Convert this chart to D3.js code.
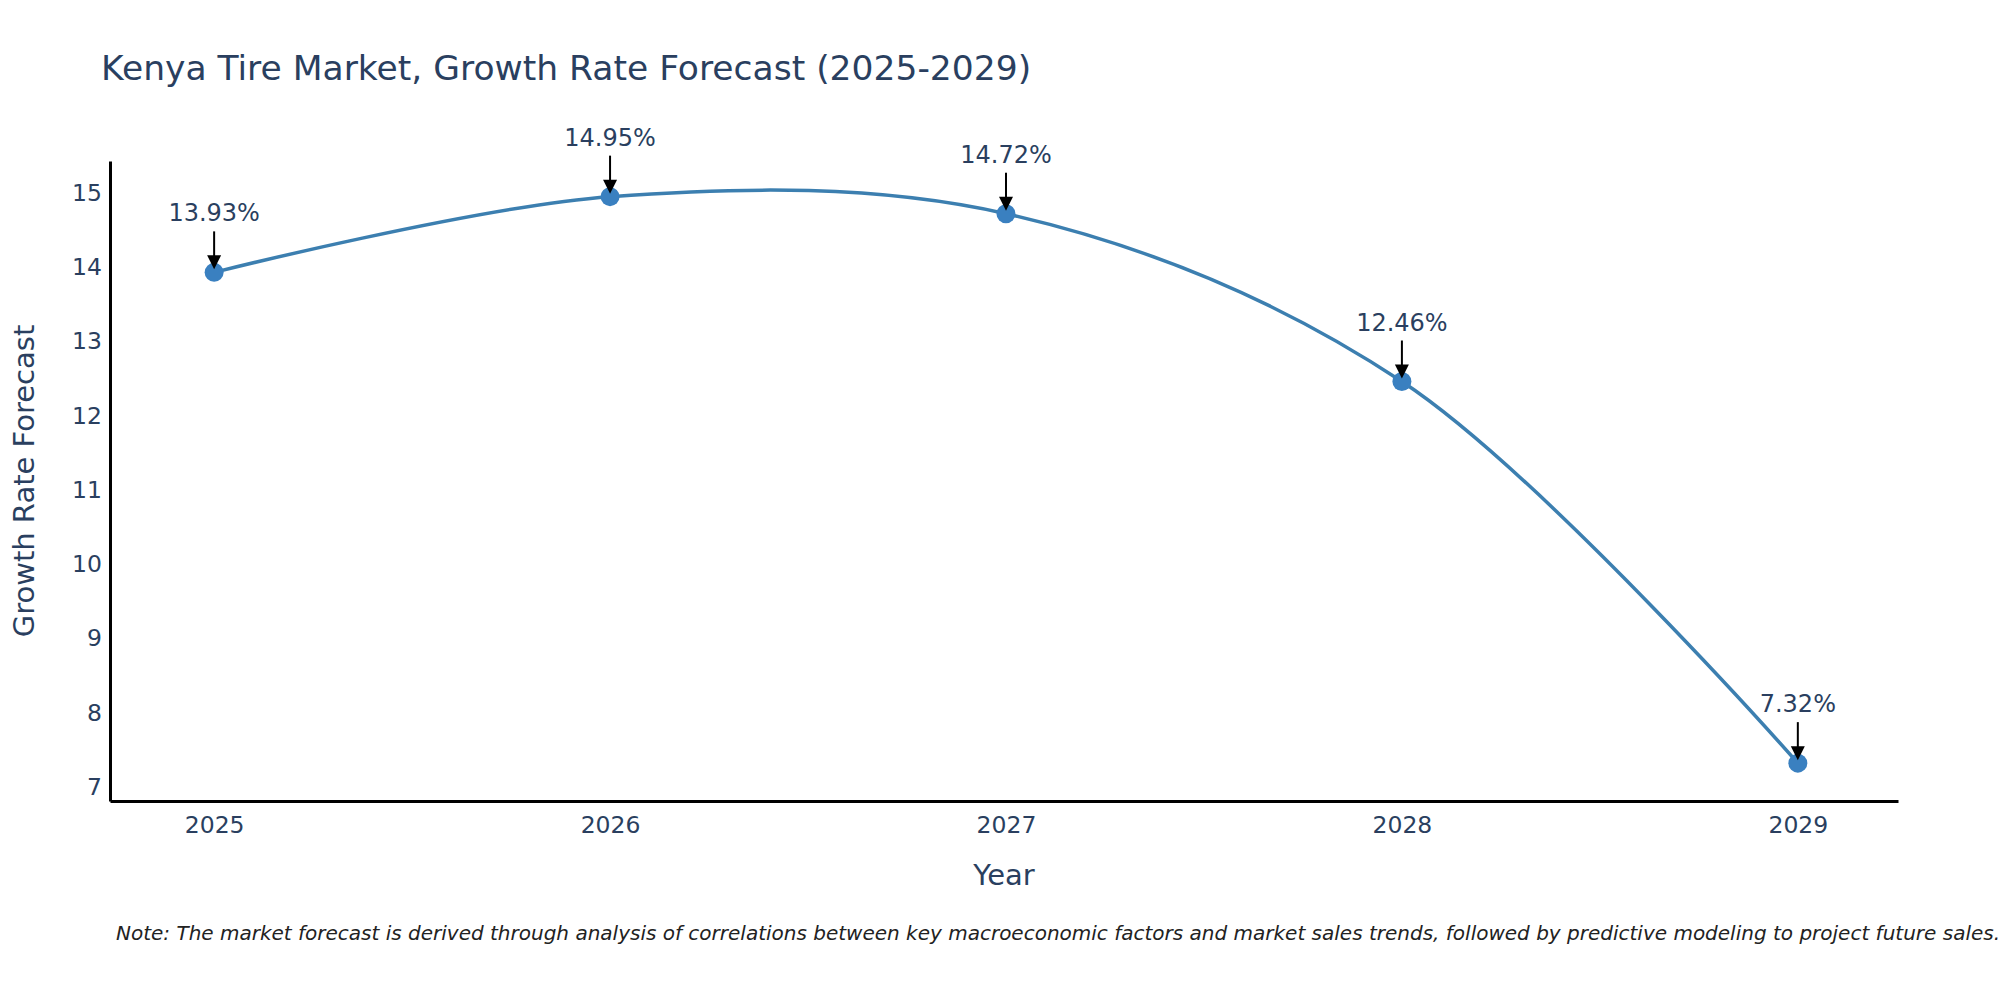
<!DOCTYPE html>
<html>
<head>
<meta charset="utf-8">
<script src="https://cdn.jsdelivr.net/npm/d3@7"></script>
<style>
  body { margin: 0; background: #fff; }
  svg { display: block; font-family: "DejaVu Sans", Verdana, sans-serif; }
</style>
</head>
<body>
<svg></svg>
<script>
// Chart data
const years = [2025, 2026, 2027, 2028, 2029];
const growthRates = [13.93, 14.95, 14.72, 12.46, 7.32];
const yTicks = [7, 8, 9, 10, 11, 12, 13, 14, 15];
const chartTitle = "Kenya Tire Market, Growth Rate Forecast (2025-2029)";
const xTitle = "Year";
const yTitle = "Growth Rate Forecast";
const noteText = "Note: The market forecast is derived through analysis of correlations between key macroeconomic factors and market sales trends, followed by predictive modeling to project future sales.";

document.addEventListener("DOMContentLoaded", function(){
    const dataset = years.map((y, i) => ({year: y, value: growthRates[i]}));

    // Dimensions
    const width = 2000;
    const height = 1000;
    const left = 110, right = 1898, top = 161, bottom = 801;
    const textColor = "#2a3f5f";

    const svg = d3.select("svg")
        .attr("width", width)
        .attr("height", height);

    // Scales
    const xScale = d3.scaleLinear()
        .domain([2024.737, 2029.253])
        .range([left, right]);

    const yScale = d3.scaleLinear()
        .domain([6.81, 15.43])
        .range([bottom, top]);

    // Title
    svg.append("text")
        .attr("x", 101)
        .attr("y", 80)
        .attr("font-size", 34.5)
        .attr("fill", textColor)
        .text(chartTitle);

    // x-axis
    const xAxis = d3.axisBottom(xScale)
        .tickValues(years)
        .tickFormat(d3.format("d"))
        .tickSize(0)
        .tickPadding(15);
    const gx = svg.append("g")
        .attr("transform", "translate(0," + bottom + ")")
        .call(xAxis);
    gx.select(".domain").attr("stroke", "black").attr("stroke-width", 3);
    gx.selectAll("text")
        .attr("font-size", 23.5)
        .attr("font-family", "DejaVu Sans")
        .attr("fill", textColor);

    // y-axis
    const yAxis = d3.axisLeft(yScale)
        .tickValues(yTicks)
        .tickFormat(d3.format("d"))
        .tickSize(0)
        .tickPadding(8);
    const gy = svg.append("g")
        .attr("transform", "translate(" + left + ",0)")
        .call(yAxis);
    gy.select(".domain").attr("stroke", "black").attr("stroke-width", 3);
    gy.selectAll("text")
        .attr("font-size", 23.5)
        .attr("font-family", "DejaVu Sans")
        .attr("fill", textColor);

    // Axis titles
    svg.append("text")
        .attr("x", (left + right) / 2)
        .attr("y", 885)
        .attr("text-anchor", "middle")
        .attr("font-size", 29)
        .attr("fill", textColor)
        .text(xTitle);

    svg.append("text")
        .attr("transform", "translate(34," + (top + bottom) / 2 + ") rotate(-90)")
        .attr("text-anchor", "middle")
        .attr("font-size", 29)
        .attr("fill", textColor)
        .text(yTitle);

    // Spline line
    const line = d3.line()
        .x(d => xScale(d.year))
        .y(d => yScale(d.value))
        .curve(d3.curveCatmullRom.alpha(0.5));

    svg.append("path")
        .datum(dataset)
        .attr("fill", "none")
        .attr("stroke", "#3c7fb0")
        .attr("stroke-width", 3.5)
        .attr("d", line);

    // Markers
    svg.selectAll("circle.point")
        .data(dataset)
        .enter()
        .append("circle")
        .attr("class", "point")
        .attr("cx", d => xScale(d.year))
        .attr("cy", d => yScale(d.value))
        .attr("r", 9.5)
        .attr("fill", "#3a80c0");

    // Annotations with arrows
    const ann = svg.selectAll("g.ann")
        .data(dataset)
        .enter()
        .append("g")
        .attr("class", "ann")
        .attr("transform", d => "translate(" + xScale(d.year) + "," + yScale(d.value) + ")");

    ann.append("line")
        .attr("x1", 0).attr("y1", -41)
        .attr("x2", 0).attr("y2", -14)
        .attr("stroke", "black")
        .attr("stroke-width", 2);

    ann.append("path")
        .attr("d", "M-7,-17 L7,-17 L0,-3 Z")
        .attr("fill", "black");

    ann.append("text")
        .attr("y", -51)
        .attr("text-anchor", "middle")
        .attr("font-size", 24)
        .attr("fill", textColor)
        .text(d => d.value.toFixed(2) + "%");

    // Note at the bottom
    svg.append("text")
        .attr("x", 116)
        .attr("y", 940)
        .attr("font-size", 20)
        .attr("font-style", "italic")
        .attr("fill", "#222")
        .text(noteText);
});
</script>
</body>
</html>
